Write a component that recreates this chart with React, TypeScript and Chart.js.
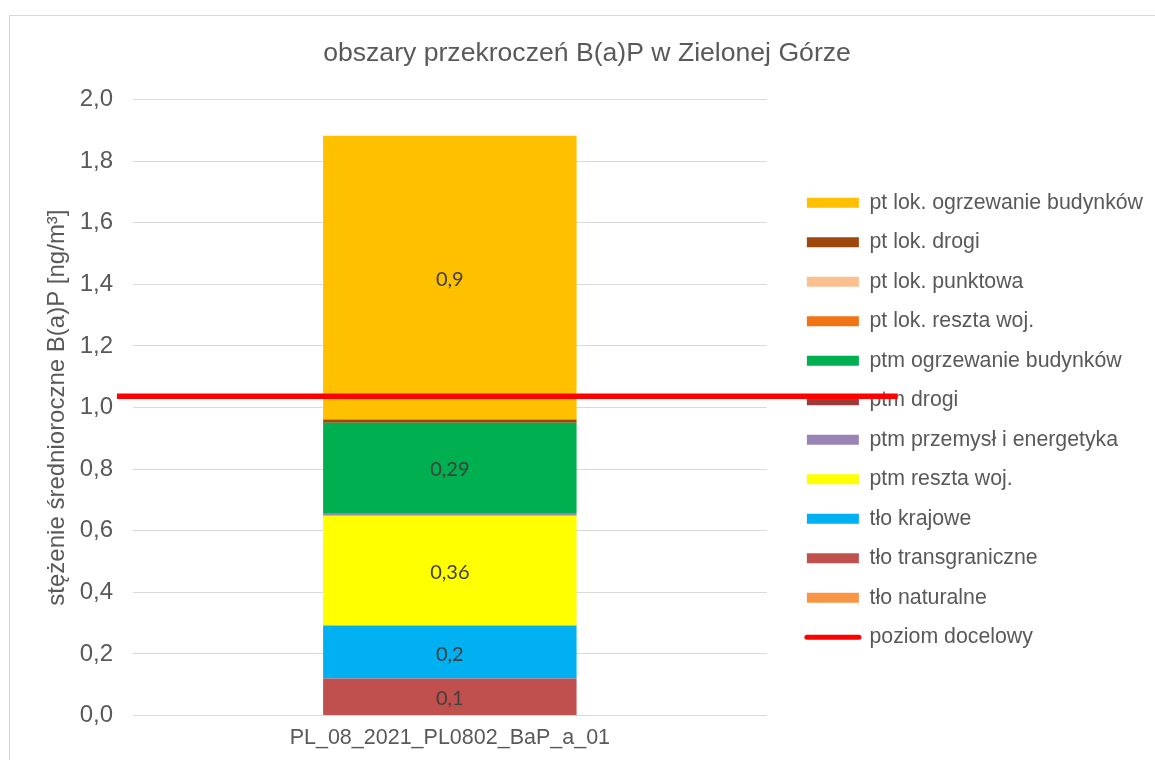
import React, { useEffect, useRef } from "react";
import { Chart, registerables } from "chart.js";

Chart.register(...registerables);

// ---- data ----
const categories = ["PL_08_2021_PL0802_BaP_a_01"];

// stacked from the bottom up
const seriesNames = [
  "tło naturalne",
  "tło transgraniczne",
  "tło krajowe",
  "ptm reszta woj.",
  "ptm przemysł i energetyka",
  "ptm drogi",
  "ptm ogrzewanie budynków",
  "pt lok. reszta woj.",
  "pt lok. punktowa",
  "pt lok. drogi",
  "pt lok. ogrzewanie budynków",
];
const seriesValues = [0, 0.12, 0.172, 0.357, 0.009, 0, 0.293, 0, 0, 0.01, 0.922];
const seriesValueLabels = ["", "0,1", "0,2", "0,36", "", "", "0,29", "", "", "", "0,9"];
const seriesColors = [
  "#F79646",
  "#C0504D",
  "#00B0F0",
  "#FFFF00",
  "#9A84B6",
  "#9E3B39",
  "#00B050",
  "#F07314",
  "#FAC090",
  "#9E480E",
  "#FFC000",
];

const targetName = "poziom docelowy";
const targetValue = [1.037];
const targetColor = "#FF0000";

const chartTitle = "obszary przekroczeń B(a)P w Zielonej Górze";
const yAxisTitle = "stężenie średnioroczne B(a)P [ng/m³]";
const yMin = 0;
const yMax = 2.0;
const yStep = 0.2;

const TEXT = "#595959";
const FONT = "'Liberation Sans', Arial, sans-serif";

const valueLabelPlugin = {
  id: "valueLabels",
  afterDatasetsDraw(chart: any) {
    const ctx = chart.ctx;
    ctx.save();
    ctx.font = "20px Lato, 'Liberation Sans', sans-serif";
    ctx.fillStyle = "#404040";
    ctx.textAlign = "center";
    ctx.textBaseline = "middle";
    seriesValueLabels.forEach((lbl, i) => {
      if (!lbl) return;
      const meta = chart.getDatasetMeta(i);
      meta.data.forEach((el: any) => {
        const y = (el.y + el.base) / 2 + 2;
        ctx.fillText(lbl, el.x, y);
      });
    });
    ctx.restore();
  },
};

const targetLinePlugin = {
  id: "targetLine",
  afterDraw(chart: any) {
    const { ctx, chartArea, scales } = chart;
    const y = scales.y.getPixelForValue(targetValue[0]);
    ctx.save();
    ctx.strokeStyle = targetColor;
    ctx.lineWidth = 5.5;
    ctx.lineCap = "butt";
    ctx.beginPath();
    ctx.moveTo(chartArea.left - 16, y);
    ctx.lineTo(chartArea.right + 131, y);
    ctx.stroke();
    ctx.restore();
  },
};

export default function App() {
  const ref = useRef<HTMLCanvasElement | null>(null);

  useEffect(() => {
    if (!ref.current) return;
    const lineIndex = seriesNames.length;
    const datasets: any[] = seriesNames.map((name, i) => ({
      type: "bar",
      label: name,
      data: [seriesValues[i]],
      backgroundColor: seriesColors[i],
      borderWidth: 0,
      stack: "s",
      barPercentage: 0.4,
      categoryPercentage: 1,
    }));
    datasets.push({
      type: "line",
      label: targetName,
      data: [targetValue[0]],
      borderColor: targetColor,
      backgroundColor: targetColor,
      borderWidth: 0,
      pointRadius: 0,
      showLine: false,
    });

    const chart = new Chart(ref.current, {
      type: "bar",
      data: { labels: categories, datasets },
      plugins: [valueLabelPlugin, targetLinePlugin],
      options: {
        responsive: false,
        animation: false,
        events: [],
        layout: { padding: { top: 10, left: 21, right: 2, bottom: 9.5 } },
        scales: {
          x: {
            stacked: true,
            grid: { display: false, drawTicks: false },
            border: { display: false },
            ticks: {
              color: TEXT,
              font: { family: FONT, size: 21.5 },
              padding: 10,
            },
            afterFit: (s: any) => {
              s.height = 35;
            },
          },
          y: {
            stacked: true,
            min: yMin,
            max: yMax,
            grid: { color: "#D9D9D9", lineWidth: 1, drawTicks: false },
            border: { display: false },
            ticks: {
              stepSize: yStep,
              color: TEXT,
              font: { family: FONT, size: 24 },
              padding: 20,
              callback: (v: any) => Number(v).toFixed(1).replace(".", ","),
            },
            title: {
              display: true,
              text: yAxisTitle,
              color: TEXT,
              font: { family: FONT, size: 24 },
              padding: { top: 21.6, bottom: 0 },
            },
            afterFit: (s: any) => {
              s.width = 112;
            },
          },
          y2: {
            type: "linear",
            position: "right",
            display: true,
            grid: { display: false, drawTicks: false },
            border: { display: false },
            ticks: { display: false },
            afterFit: (s: any) => {
              s.width = 22;
            },
          },
        },
        plugins: {
          title: {
            display: true,
            text: chartTitle,
            color: TEXT,
            font: { family: FONT, size: 26.6, weight: "normal" },
            padding: { top: 28.1, bottom: 29.6 },
          },
          legend: {
            display: true,
            position: "right",
            align: "center",
            fullSize: false,
            maxWidth: 500,
            title: {
              display: true,
              text: " ",
              font: { size: 12 },
              padding: { top: 0, bottom: 10.5 },
            },
            labels: {
              color: TEXT,
              font: { family: FONT, size: 21.3 },
              usePointStyle: true,
              pointStyleWidth: 52,
              boxHeight: 10,
              padding: 18.2,
              sort: (a: any, b: any) => {
                const k = (it: any) => (it.datasetIndex === lineIndex ? 100 : -it.datasetIndex);
                return k(a) - k(b);
              },
              generateLabels: (c: any) => {
                const items = (Chart.defaults as any).plugins.legend.labels.generateLabels(c);
                return items.map((it: any) => {
                  if (it.datasetIndex === lineIndex) {
                    return {
                      ...it,
                      pointStyle: "line",
                      fillStyle: targetColor,
                      strokeStyle: targetColor,
                      lineWidth: 5,
                      lineCap: "round",
                    };
                  }
                  return {
                    ...it,
                    pointStyle: "rect",
                    fillStyle: seriesColors[it.datasetIndex],
                    strokeStyle: seriesColors[it.datasetIndex],
                    lineWidth: 0,
                  };
                });
              },
            },
          },
          tooltip: { enabled: false },
        },
      } as any,
    });
    return () => chart.destroy();
  }, []);

  return (
    <div
      style={{
        position: "absolute",
        left: 0,
        top: 0,
        width: 1155,
        height: 760,
        overflow: "hidden",
        background: "#ffffff",
      }}
    >
      <div
        style={{
          position: "absolute",
          left: 9,
          top: 15,
          width: 1170,
          height: 800,
          border: "1px solid #D9D9D9",
          boxSizing: "border-box",
        }}
      />
      <canvas
        ref={ref}
        width={1155}
        height={760}
        style={{ position: "absolute", left: 0, top: 0, display: "block" }}
      />
    </div>
  );
}
